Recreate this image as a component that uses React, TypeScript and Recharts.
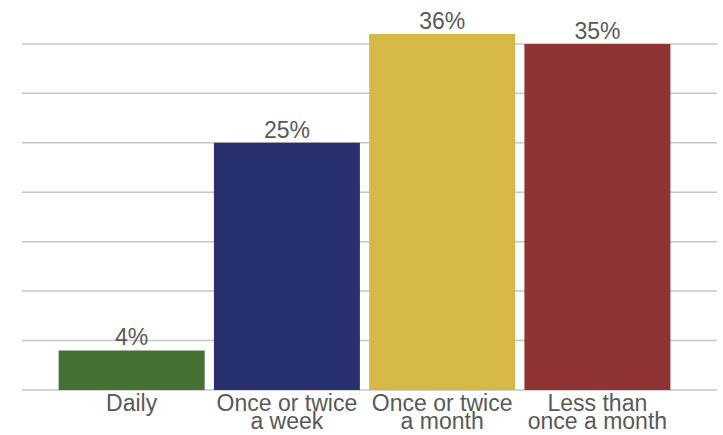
import React from 'react';
import { BarChart, Bar, XAxis, YAxis, CartesianGrid, Cell, LabelList } from 'recharts';

// Survey shares, in percent
const categories = ['Daily', 'Once or twice\na week', 'Once or twice\na month', 'Less than\nonce a month'];
const shares = [4, 25, 36, 35];
const barColors = ['#447235', '#29306F', '#D5B845', '#8F3335'];
const yTicks = [0, 5, 10, 15, 20, 25, 30, 35];

const data = categories.map((name, i) => ({ name, value: shares[i] }));

const FONT = '"Liberation Sans", Arial, sans-serif';
const TEXT = '#595959';

const CategoryTick = ({ x, y, payload }: any) => {
  const lines = String(payload.value).split('\n');
  return (
    <text x={x} y={y} textAnchor="middle" fill={TEXT} fontSize={23} fontFamily={FONT}>
      {lines.map((line, i) => (
        <tspan key={i} x={x} dy={i === 0 ? 15 : 17.5}>
          {line}
        </tspan>
      ))}
    </text>
  );
};

const App = () => {
  return (
    <div style={{ position: 'absolute', left: 0, top: 0, background: '#fff' }}>
      <BarChart
        width={723}
        height={435}
        data={data}
        margin={{ top: 34, right: 6, left: 22, bottom: 0 }}
        barCategoryGap="3%"
      >
        <CartesianGrid vertical={false} syncWithTicks stroke="#C6C6C6" strokeWidth={1.5} />
        <XAxis
          dataKey="name"
          height={45}
          axisLine={false}
          tickLine={false}
          tickMargin={0}
          interval={0}
          padding={{ left: 32, right: 42 }}
          tick={<CategoryTick />}
        />
        <YAxis hide domain={[0, 36]} ticks={yTicks} />
        <Bar dataKey="value" isAnimationActive={false}>
          {data.map((d, i) => (
            <Cell key={d.name} fill={barColors[i]} />
          ))}
          <LabelList
            dataKey="value"
            position="top"
            offset={5}
            fill={TEXT}
            fontSize={23}
            fontFamily={FONT}
            formatter={(v: any) => `${v}%`}
          />
        </Bar>
      </BarChart>
    </div>
  );
};

export default App;
